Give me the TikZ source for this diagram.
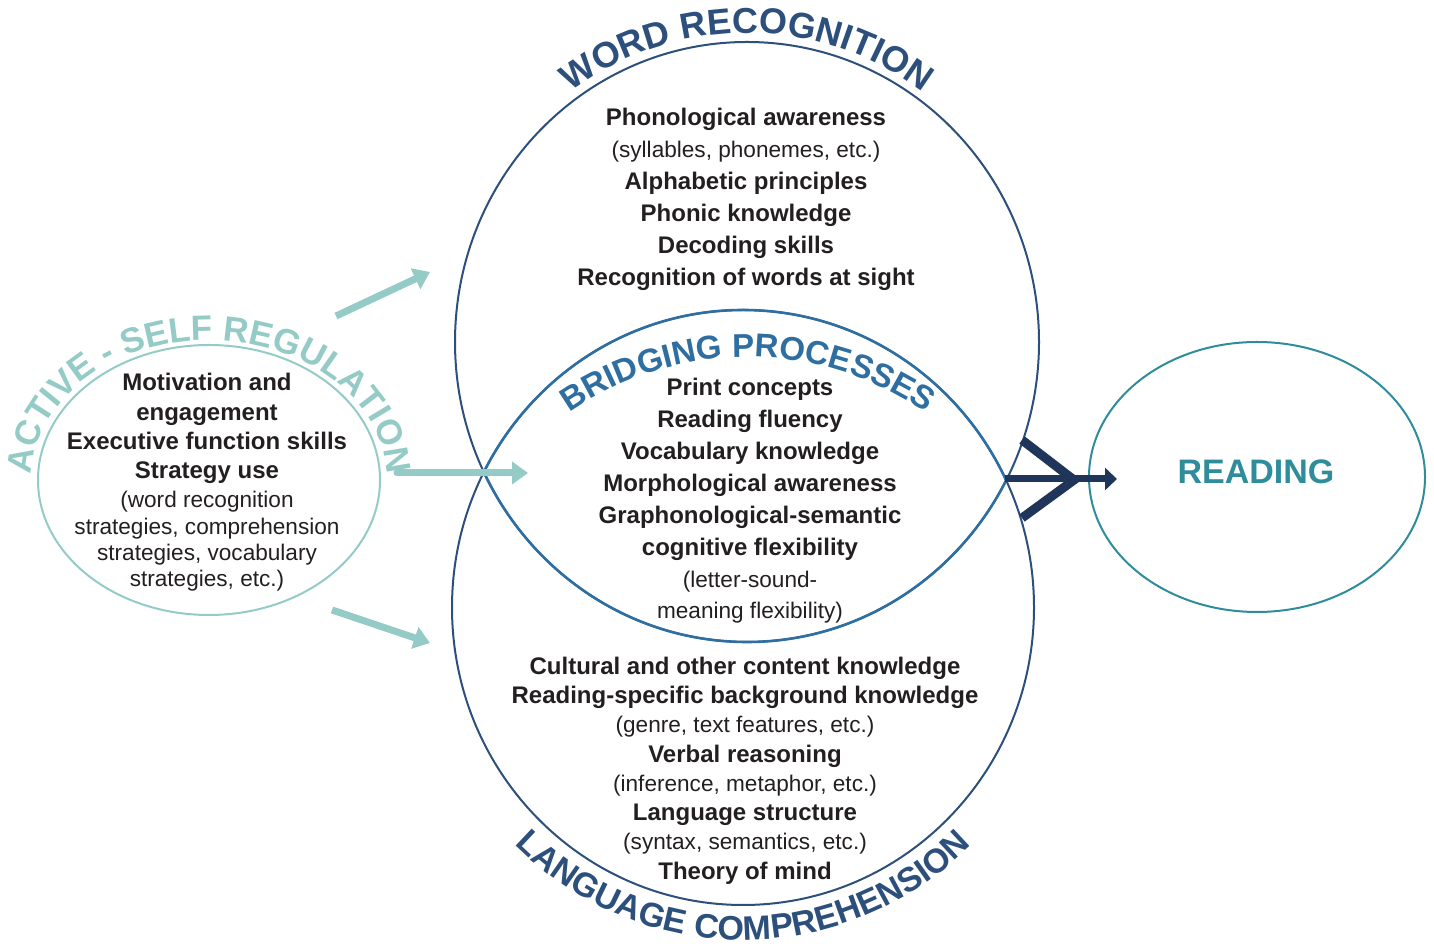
\documentclass[tikz,border=0pt]{standalone}
\usepackage{fontspec}
\setmainfont{Liberation Sans}
\usetikzlibrary{shapes.geometric,arrows.meta,decorations.text}
\definecolor{wr}{HTML}{2D4F7C}
\definecolor{br}{HTML}{2F6EA0}
\definecolor{rd}{HTML}{2E8C9B}
\definecolor{ac}{HTML}{94CBC6}
\definecolor{dk}{HTML}{1F3559}
\definecolor{tx}{HTML}{231F20}
\begin{document}
\begin{tikzpicture}[x=0.5pt,y=0.5pt,
  ell/.style={ellipse, draw, inner sep=0pt, line width=1pt},
  bt/.style={anchor=base, inner sep=0pt, text=tx, font=\fontsize{12}{12}\selectfont\bfseries},
  rt/.style={anchor=base, inner sep=0pt, text=tx, font=\fontsize{11.3}{12}\selectfont},
  tarrow/.style={draw=ac, line width=3.5pt, -{Triangle[length=8pt,width=11pt]}},
  darrow/.style={draw=dk, line width=4.5pt},
  lens/.style={draw=br, line width=1.3pt},
  curved/.style={decorate, decoration={text along path, text align=center, text={#1}}},
]
\useasboundingbox (0,0) rectangle (1434,947);
% ellipses
\node[ell, draw=wr, minimum width=292pt, minimum height=300pt] (wrc) at (747,605) {};
\node[ell, draw=wr, minimum width=291pt, minimum height=297.5pt] (lcc) at (743,339.5) {};
\node[ell, draw=rd, minimum width=168pt, minimum height=135pt] (rdc) at (1257,470) {};
\node[ell, draw=ac, minimum width=171pt, minimum height=135pt] (acc) at (209,467) {};
% bridging lens: lower arc of word recognition, upper arc of language comprehension
\begin{scope}
  \clip (lcc.center) ellipse [x radius=291, y radius=297.5];
  \draw[lens] (wrc.center) ellipse [x radius=292, y radius=300];
\end{scope}
\begin{scope}
  \clip (wrc.center) ellipse [x radius=292, y radius=300];
  \draw[lens] (lcc.center) ellipse [x radius=291, y radius=297.5];
\end{scope}
% curved titles
\path[curved={|\fontsize{18}{18}\selectfont\bfseries\color{wr}|WORD RECOGNITION}]
  (747,602) ++(150:301 and 312) arc[start angle=150,end angle=30,x radius=301,y radius=312];
\path[curved={|\fontsize{17}{17}\selectfont\bfseries\color{wr}|LANGUAGE COMPREHENSION}]
  (743,339) ++(215:326 and 332) arc[start angle=215,end angle=325,x radius=326,y radius=332];
\path[curved={|\fontsize{16.5}{16.5}\selectfont\bfseries\color{br}|BRIDGING PROCESSES}]
  (748,278) ++(140:312) arc[start angle=140,end angle=40,radius=312];
\path[curved={|\fontsize{17.5}{17.5}\selectfont\bfseries\color{ac}|ACTIVE - SELF REGULATION}]
  (209,467) ++(178:178 and 140) arc[start angle=178,end angle=2,x radius=178,y radius=140];
% word recognition text
\node[bt] (w1) at (746,821) {Phonological awareness};
\node[rt] (w2) at (746,789) {(syllables, phonemes, etc.)};
\node[bt] (w3) at (746,757) {Alphabetic principles};
\node[bt] (w4) at (746,725) {Phonic knowledge};
\node[bt] (w5) at (746,693) {Decoding skills};
\node[bt] (w6) at (746,661) {Recognition of words at sight};
% bridging text
\node[bt] (b1) at (750,551) {Print concepts};
\node[bt] (b2) at (750,519) {Reading fluency};
\node[bt] (b3) at (750,487) {Vocabulary knowledge};
\node[bt] (b4) at (750,455) {Morphological awareness};
\node[bt] (b5) at (750,423) {Graphonological-semantic};
\node[bt] (b6) at (750,391) {cognitive flexibility};
\node[rt] (b7) at (750,359) {(letter-sound-};
\node[rt] (b8) at (750,328) {meaning flexibility)};
% language comprehension text
\node[bt] (l1) at (745,272) {Cultural and other content knowledge};
\node[bt] (l2) at (745,243) {Reading-specific background knowledge};
\node[rt] (l3) at (745,214) {(genre, text features, etc.)};
\node[bt] (l4) at (745,184) {Verbal reasoning};
\node[rt] (l5) at (745,155) {(inference, metaphor, etc.)};
\node[bt] (l6) at (745,126) {Language structure};
\node[rt] (l7) at (745,97) {(syntax, semantics, etc.)};
\node[bt] (l8) at (745,67) {Theory of mind};
% active self regulation text
\node[bt] (a1) at (207,556) {Motivation and};
\node[bt] (a2) at (207,526) {engagement};
\node[bt] (a3) at (207,497) {Executive function skills};
\node[bt] (a4) at (207,468) {Strategy use};
\node[rt] (a5) at (207,439) {(word recognition};
\node[rt] (a6) at (207,412) {strategies, comprehension};
\node[rt] (a7) at (207,386) {strategies, vocabulary};
\node[rt] (a8) at (207,360) {strategies, etc.)};
% reading
\node[anchor=base, inner sep=0pt, text=rd, font=\fontsize{17}{17}\selectfont\bfseries] (rdt) at (1256,463) {READING};
% teal arrows
\coordinate (t1s) at (336,631); \coordinate (t1e) at (430,675);
\coordinate (t2s) at (397,474); \coordinate (t2e) at (528,474);
\coordinate (t3s) at (332,337); \coordinate (t3e) at (430,304);
\draw[tarrow] (t1s) -- (t1e);
\draw[tarrow, line cap=round] (t2s) -- (t2e);
\draw[tarrow] (t3s) -- (t3e);
% dark arrow
\coordinate (c1) at (1022,507); \coordinate (c2) at (1022,429);
\coordinate (cm) at (1074,467);
\coordinate (hs) at (1005,468); \coordinate (he) at (1117,468);
\draw[darrow] (c1) -- (cm) -- (c2);
\draw[draw=dk, line width=3.5pt, -{Triangle[length=6pt,width=11pt]}] (hs) -- (he);
\end{tikzpicture}
\end{document}
